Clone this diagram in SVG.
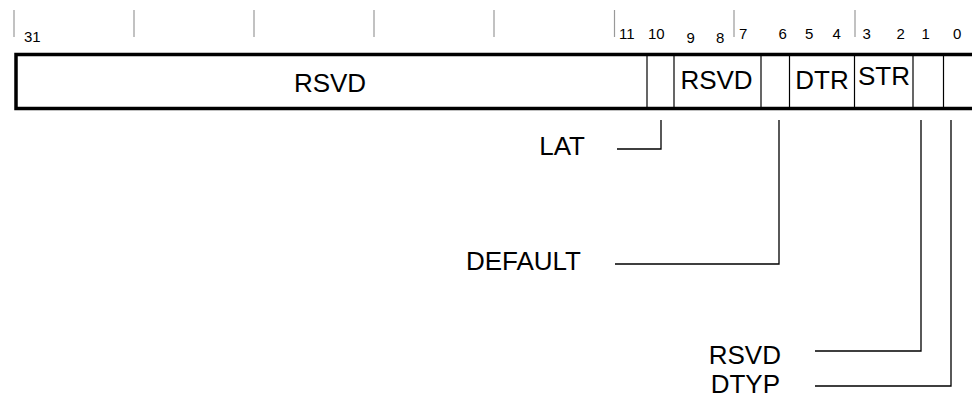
<svg xmlns="http://www.w3.org/2000/svg" width="972" height="398" viewBox="0 0 972 398">
<style>
.tick{stroke:#999;stroke-width:1.2;fill:none}
.bit{font-family:"Liberation Sans",Arial,sans-serif;font-size:15px;fill:#000}
.lbl{font-family:"Liberation Sans",Arial,sans-serif;font-size:26px;fill:#000}
.box{fill:#fff;stroke:#000;stroke-width:3.5}
.div{stroke:#000;stroke-width:1.2;fill:none}
.con{stroke:#000;stroke-width:1.3;fill:none}
</style>
<rect width="972" height="398" fill="#fff"/>
<g id="ticks">
<line class="tick" x1="14" y1="10" x2="14" y2="37"/>
<line class="tick" x1="134" y1="10" x2="134" y2="37"/>
<line class="tick" x1="254" y1="10" x2="254" y2="37"/>
<line class="tick" x1="374" y1="10" x2="374" y2="37"/>
<line class="tick" x1="494" y1="10" x2="494" y2="37"/>
<line class="tick" x1="614.5" y1="10" x2="614.5" y2="37"/>
<line class="tick" x1="734" y1="10" x2="734" y2="37"/>
<line class="tick" x1="855" y1="10" x2="855" y2="37"/>
</g>
<g id="bits">
<text class="bit" x="24" y="42">31</text>
<text class="bit" x="619" y="39">11</text>
<text class="bit" x="648" y="39">10</text>
<text class="bit" x="686.5" y="42.5">9</text>
<text class="bit" x="716" y="42.5">8</text>
<text class="bit" x="739" y="39">7</text>
<text class="bit" x="778.5" y="38.5">6</text>
<text class="bit" x="805" y="38.5">5</text>
<text class="bit" x="832.5" y="38.5">4</text>
<text class="bit" x="862.5" y="38.5">3</text>
<text class="bit" x="896.5" y="38.5">2</text>
<text class="bit" x="921.5" y="38.5">1</text>
<text class="bit" x="953" y="38.5">0</text>
</g>
<g id="register">
<rect class="box" x="16" y="54.5" width="970" height="54"/>
<line class="div" x1="647" y1="54.5" x2="647" y2="108.5"/>
<line class="div" x1="674" y1="54.5" x2="674" y2="108.5"/>
<line class="div" x1="761" y1="54.5" x2="761" y2="108.5"/>
<line class="div" x1="789.5" y1="54.5" x2="789.5" y2="108.5"/>
<line class="div" x1="854.5" y1="54.5" x2="854.5" y2="108.5"/>
<line class="div" x1="913" y1="54.5" x2="913" y2="108.5"/>
<line class="div" x1="943.5" y1="54.5" x2="943.5" y2="108.5"/>
</g>
<g id="field-rsvd-31-11"><text class="lbl" x="330" y="91.5" text-anchor="middle">RSVD</text></g>
<g id="field-rsvd-9-8"><text class="lbl" x="716.5" y="89" text-anchor="middle">RSVD</text></g>
<g id="field-dtr"><text class="lbl" x="822" y="89" text-anchor="middle">DTR</text></g>
<g id="field-str"><text class="lbl" x="884" y="85" text-anchor="middle">STR</text></g>
<g id="label-lat"><text class="lbl" x="585" y="154.5" text-anchor="end">LAT</text></g>
<g id="label-default"><text class="lbl" x="581" y="269.5" text-anchor="end">DEFAULT</text></g>
<g id="label-rsvd"><text class="lbl" x="781" y="364" text-anchor="end">RSVD</text></g>
<g id="label-dtyp"><text class="lbl" x="780" y="393" text-anchor="end">DTYP</text></g>
<g id="connectors">
<polyline class="con" points="617,149 661,149 661,120"/>
<polyline class="con" points="615,264 779,264 779,120"/>
<polyline class="con" points="815,351 921,351 921,120"/>
<polyline class="con" points="815,386 951,386 951,120"/>
</g>
</svg>
